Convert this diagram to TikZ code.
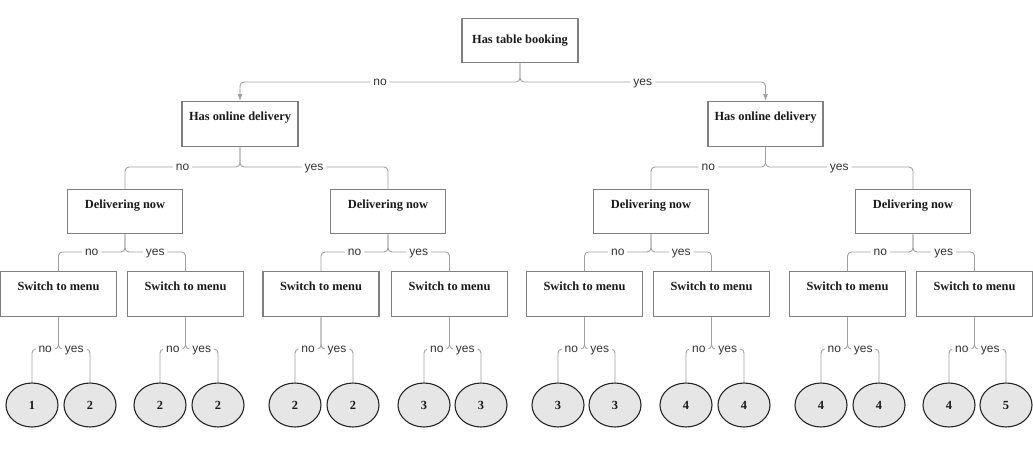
\documentclass[tikz,border=0pt]{standalone}
\usepackage{fontspec}
\setmainfont{Liberation Serif}
\newfontfamily\lblfont{Liberation Sans}
\usetikzlibrary{shapes.geometric,arrows.meta}
\definecolor{boxgray}{HTML}{808080}
\definecolor{conngray}{HTML}{A0A0A0}
\definecolor{textdark}{HTML}{1A1A1A}
\definecolor{labelgray}{HTML}{333333}
\definecolor{leafgray}{HTML}{E6E6E6}
\tikzset{
  box/.style={draw=boxgray, line width=1.3pt, fill=white, inner sep=0pt,
    minimum width=116pt, text height=19pt, text depth=26pt, anchor=north,
    font=\bfseries\fontsize{12.4}{14}\selectfont, text=textdark},
  leaf/.style={ellipse, draw=black!85, line width=1.1pt, fill=leafgray,
    minimum width=52pt, minimum height=44pt, inner sep=0pt,
    font=\bfseries\fontsize{12.4}{14}\selectfont, text=textdark},
  conn/.style={draw=conngray, line width=0.9pt, rounded corners=4pt},
  lbl/.style={fill=white, font=\lblfont\fontsize{12}{14}\selectfont,
    text=labelgray, inner xsep=3pt, inner ysep=2pt, text height=6.2pt, text depth=0pt},
  arr/.style={-{Latex[length=7pt,width=5pt]}}
}
\begin{document}
\begin{tikzpicture}[x=1pt,y=-1pt]
\useasboundingbox (0,0) rectangle (1033,453);
\fill[white] (0,0) rectangle (1033,453);
% nodes
\node[box, text height=25pt, text depth=19pt] (T) at (520,18) {Has table booking};
\node[box] (HL) at (240,101) {Has online delivery};
\node[box, minimum width=115pt] (HR) at (765.5,101) {Has online delivery};
\foreach \i/\x in {1/125,2/388,3/651,4/913}
  \node[box, minimum width=115pt, text depth=25pt] (D\i) at (\x,189) {Delivering now};
\foreach \i/\x in {1/58.5,2/185.5,3/321,4/449.5,5/584.5,6/711.5,7/847.5,8/974.5}
  \node[box] (S\i) at (\x,271) {Switch to menu};
\foreach \i/\x/\v in {1/32/1,2/90/2,3/160/2,4/218/2,5/295/2,6/353/2,7/424/3,8/481/3,
    9/558/3,10/615/3,11/686/4,12/744/4,13/821/4,14/879/4,15/949/4,16/1006/5}
  \node[leaf] (L\i) at (\x,405) {\v};
% bar levels
\coordinate (b1) at (0,82);
\coordinate (b2) at (0,167);
\coordinate (b3) at (0,252);
\coordinate (b4) at (0,349);
% connectors
\draw[conn,arr] (T.south) -- (T.south |- b1) -| node[lbl,pos=0.25]{no} (HL.north);
\draw[conn,arr] (T.south) -- (T.south |- b1) -| node[lbl,pos=0.25]{yes} (HR.north);
\foreach \p/\a/\b in {HL/D1/D2, HR/D3/D4}{
  \draw[conn] (\p.south) -- (\p.south |- b2) -| node[lbl,pos=0.25]{no} (\a.north);
  \draw[conn] (\p.south) -- (\p.south |- b2) -| node[lbl,pos=0.25]{yes} (\b.north);
}
\foreach \p/\a/\b in {D1/S1/S2, D2/S3/S4, D3/S5/S6, D4/S7/S8}{
  \draw[conn] (\p.south) -- (\p.south |- b3) -| node[lbl,pos=0.25]{no} (\a.north);
  \draw[conn] (\p.south) -- (\p.south |- b3) -| node[lbl,pos=0.25]{yes} (\b.north);
}
\foreach \p/\a/\b in {S1/L1/L2, S2/L3/L4, S3/L5/L6, S4/L7/L8, S5/L9/L10, S6/L11/L12, S7/L13/L14, S8/L15/L16}{
  \draw[conn] (\p.south) -- (\p.south |- b4) -| node[lbl,pos=0.25]{no} (\a.north);
  \draw[conn] (\p.south) -- (\p.south |- b4) -| node[lbl,pos=0.25]{yes} (\b.north);
}
\end{tikzpicture}
\end{document}
